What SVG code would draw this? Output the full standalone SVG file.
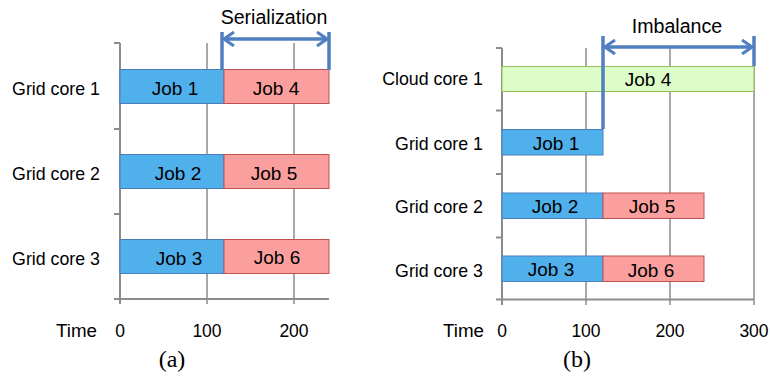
<svg xmlns="http://www.w3.org/2000/svg" width="770" height="378" viewBox="0 0 770 378">
<defs>
<style>
.lbl{font-family:"Liberation Sans",Arial,sans-serif;font-size:17.8px;fill:#000;text-anchor:end}
.job{font-family:"Liberation Sans",Arial,sans-serif;font-size:19px;fill:#000;text-anchor:middle}
.ttl{font-family:"Liberation Sans",Arial,sans-serif;font-size:19.6px;fill:#000;text-anchor:middle}
.num{font-family:"Liberation Sans",Arial,sans-serif;font-size:17.5px;fill:#000;text-anchor:middle}
.time{font-family:"Liberation Sans",Arial,sans-serif;font-size:18.8px;fill:#000;text-anchor:end}
.cap{font-family:"Liberation Serif","Times New Roman",serif;font-size:24px;fill:#000;text-anchor:middle}
.grid{stroke:#8c8c8c;stroke-width:1.5;fill:none}
.axis{stroke:#8c8c8c;stroke-width:2;fill:none}
.blue{fill:#50b0ec;stroke:#4a7ebb;stroke-width:1}
.red{fill:#fa9f9e;stroke:#c0504d;stroke-width:1}
.green{fill:#dcfcc8;stroke:#9bbb59;stroke-width:1}
.dim{stroke:#4f7fbf;stroke-width:3.5;fill:none}
</style>
<marker id="chev" viewBox="0 0 12 16" refX="11" refY="8" markerWidth="12" markerHeight="16" markerUnits="userSpaceOnUse" orient="auto-start-reverse">
<path d="M1,1 L11,8 L1,15" fill="none" stroke="#4f7fbf" stroke-width="3"/>
</marker>
</defs>

<!-- Panel (a) -->
<g id="panel-a-axes">
<line class="grid" x1="207" y1="43" x2="207" y2="304"/>
<line class="grid" x1="294" y1="43" x2="294" y2="304"/>
<line class="axis" x1="120" y1="43" x2="120" y2="304"/>
<line class="axis" x1="114" y1="299" x2="329" y2="299"/>
<line class="axis" x1="114" y1="43" x2="120" y2="43"/>
<line class="axis" x1="114" y1="129" x2="120" y2="129"/>
<line class="axis" x1="114" y1="214" x2="120" y2="214"/>
</g>
<g id="a-job1"><rect class="blue" x="120" y="69.5" width="104" height="34"/><text class="job" x="175" y="95">Job 1</text></g>
<g id="a-job4"><rect class="red" x="224" y="69.5" width="105" height="34"/><text class="job" x="276" y="95">Job 4</text></g>
<g id="a-job2"><rect class="blue" x="120" y="154.5" width="104" height="34"/><text class="job" x="178" y="180">Job 2</text></g>
<g id="a-job5"><rect class="red" x="224" y="154.5" width="105" height="34"/><text class="job" x="274" y="180">Job 5</text></g>
<g id="a-job3"><rect class="blue" x="120" y="239.5" width="104" height="34"/><text class="job" x="179" y="265">Job 3</text></g>
<g id="a-job6"><rect class="red" x="224" y="239.5" width="105" height="34"/><text class="job" x="277" y="264">Job 6</text></g>
<g id="a-labels">
<text class="lbl" x="100" y="95">Grid core 1</text>
<text class="lbl" x="100" y="180">Grid core 2</text>
<text class="lbl" x="100" y="265">Grid core 3</text>
<text class="time" x="97" y="337">Time</text>
<text class="num" x="120" y="337">0</text>
<text class="num" x="207" y="337">100</text>
<text class="num" x="294" y="337">200</text>
<text class="cap" x="172" y="367">(a)</text>
<text class="ttl" x="274" y="24">Serialization</text>
</g>

<!-- Panel (b) -->
<g id="panel-b-axes">
<line class="grid" x1="586" y1="48" x2="586" y2="305"/>
<line class="grid" x1="670" y1="48" x2="670" y2="305"/>
<line class="grid" x1="754" y1="48" x2="754" y2="305"/>
<line class="axis" x1="502" y1="48" x2="502" y2="305"/>
<line class="axis" x1="496" y1="299.5" x2="754" y2="299.5"/>
<line class="axis" x1="496" y1="48" x2="502" y2="48"/>
<line class="axis" x1="496" y1="110.5" x2="502" y2="110.5"/>
<line class="axis" x1="496" y1="174" x2="502" y2="174"/>
<line class="axis" x1="496" y1="237.5" x2="502" y2="237.5"/>
</g>
<g id="b-job4"><rect class="green" x="502" y="66.5" width="252" height="25"/><text class="job" x="648" y="86">Job 4</text></g>
<g id="b-job1"><rect class="blue" x="502" y="129.5" width="101" height="25.5"/><text class="job" x="556" y="150">Job 1</text></g>
<g id="b-job2"><rect class="blue" x="502" y="193" width="101" height="25.5"/><text class="job" x="555" y="213">Job 2</text></g>
<g id="b-job5"><rect class="red" x="603" y="193" width="101" height="25.5"/><text class="job" x="652" y="213">Job 5</text></g>
<g id="b-job3"><rect class="blue" x="502" y="256" width="101" height="25.5"/><text class="job" x="551" y="276">Job 3</text></g>
<g id="b-job6"><rect class="red" x="603" y="256" width="101" height="25.5"/><text class="job" x="651" y="277">Job 6</text></g>
<g id="b-labels">
<text class="lbl" x="483" y="85">Cloud core 1</text>
<text class="lbl" x="483" y="150">Grid core 1</text>
<text class="lbl" x="483" y="213">Grid core 2</text>
<text class="lbl" x="483" y="277">Grid core 3</text>
<text class="time" x="484" y="337">Time</text>
<text class="num" x="502" y="337">0</text>
<text class="num" x="586" y="337">100</text>
<text class="num" x="670" y="337">200</text>
<text class="num" x="754" y="337">300</text>
<text class="cap" x="577" y="367">(b)</text>
<text class="ttl" x="677" y="33">Imbalance</text>
</g>

<g id="connectors">
<line class="dim" x1="222" y1="32" x2="222" y2="70"/>
<line class="dim" x1="329" y1="32" x2="329" y2="70"/>
<line class="dim" x1="224" y1="39" x2="327" y2="39" marker-start="url(#chev)" marker-end="url(#chev)"/>
<line class="dim" x1="603" y1="36" x2="603" y2="129"/>
<line class="dim" x1="754" y1="36" x2="754" y2="66"/>
<line class="dim" x1="605" y1="47" x2="752" y2="47" marker-start="url(#chev)" marker-end="url(#chev)"/>
</g>
</svg>
